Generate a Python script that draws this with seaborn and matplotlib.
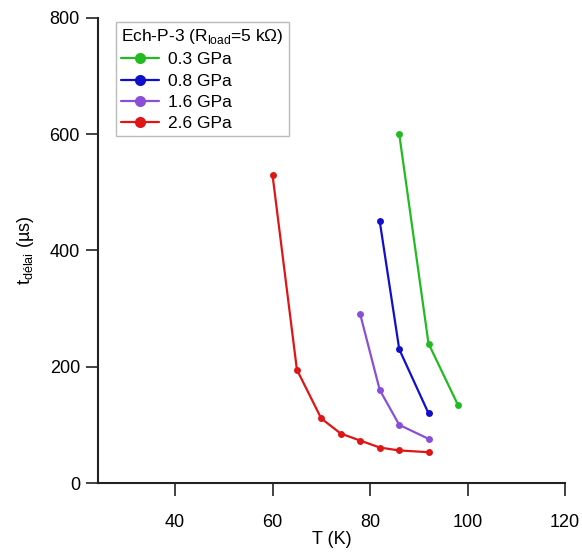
import pandas as pd
import numpy as np
import matplotlib
matplotlib.use("Agg")
import matplotlib.pyplot as plt
import seaborn as sns

# data
pressures = ['0.3 GPa', '0.8 GPa', '1.6 GPa', '2.6 GPa']
T_03 = [86, 92, 98]
t_03 = [600, 240, 135]
T_08 = [82, 86, 92]
t_08 = [450, 230, 120]
T_16 = [78, 82, 86, 92]
t_16 = [290, 160, 100, 76]
T_26 = [60, 65, 70, 74, 78, 82, 86, 92]
t_26 = [530, 195, 111, 85, 73, 61, 56, 53]

colors = ['#22bb22', '#1010cc', '#8a4fd8', '#e01515']

rows = []
for p, T, t in zip(pressures, [T_03, T_08, T_16, T_26], [t_03, t_08, t_16, t_26]):
    for a, b in zip(T, t):
        rows.append({'T': a, 't': b, 'P': p})
df = pd.DataFrame(rows)

sns.set_style("ticks")
plt.rcParams['font.family'] = ['Liberation Sans', 'DejaVu Sans']
plt.rcParams['text.color'] = 'black'
plt.rcParams['axes.labelcolor'] = 'black'
plt.rcParams['xtick.color'] = 'black'
plt.rcParams['ytick.color'] = 'black'

fig = plt.figure(figsize=(5.82, 5.54), dpi=100)
ax = fig.add_axes([98 / 582, 1 - 483 / 554, (565 - 98) / 582, (483 - 18) / 554])

sns.lineplot(data=df, x='T', y='t', hue='P', hue_order=pressures, palette=colors,
             marker='o', markersize=5, markeredgewidth=0, linewidth=1.6,
             sort=False, estimator=None, ax=ax)

ax.set_xlim(24.2, 120)
ax.set_ylim(0, 800)
ax.set_xticks([40, 60, 80, 100, 120])
ax.set_yticks([0, 200, 400, 600, 800])
ax.tick_params(axis='x', length=9, width=1.2, labelsize=13, pad=13, color='#222222')
ax.tick_params(axis='y', length=9, width=1.2, labelsize=13, pad=4, color='#222222')
for s in ['left', 'bottom']:
    ax.spines[s].set_linewidth(1.5)
    ax.spines[s].set_color('#222222')
sns.despine(ax=ax)

ax.set_xlabel('T (K)', fontsize=13, labelpad=0)
ax.set_ylabel('t$_{\\mathregular{délai}}$ (µs)', fontsize=13, labelpad=10)

handles, labels = ax.get_legend_handles_labels()
for h in handles:
    h.set_markersize(8)
leg = ax.legend(handles, labels, title='Ech-P-3 (R$_{\\mathregular{load}}$=5 kΩ)',
                loc='upper left', bbox_to_anchor=(0.02, 1.01), fontsize=12.5,
                title_fontsize=12.5, frameon=True, fancybox=False,
                edgecolor='#aaaaaa', handlelength=2.2, handletextpad=0.5,
                labelspacing=0.35, borderpad=0.3, alignment='left')
leg.get_frame().set_linewidth(1.0)

fig.savefig('out.png', dpi=100)
